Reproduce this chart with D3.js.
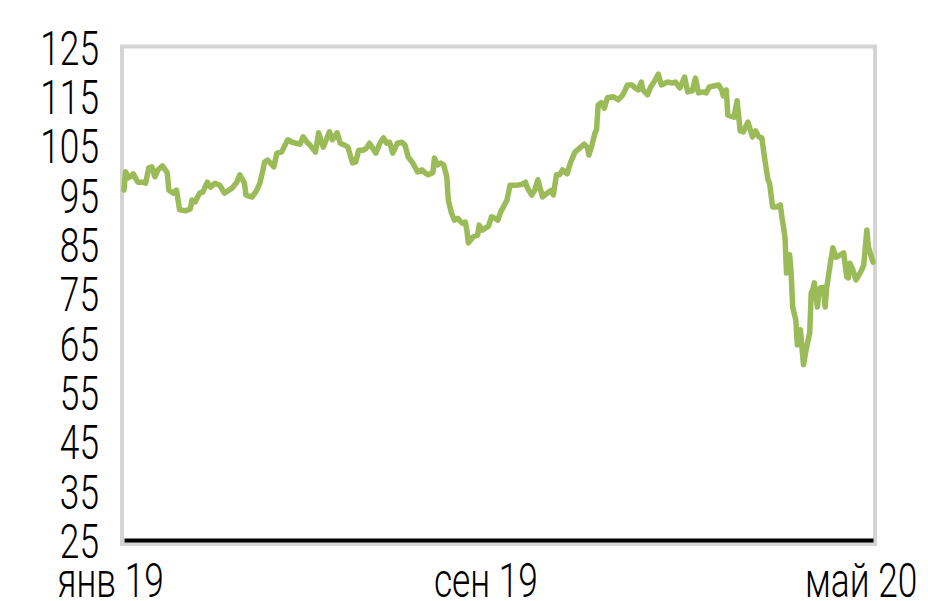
<!DOCTYPE html>
<html>
<head>
<meta charset="utf-8">
<script src="https://cdn.jsdelivr.net/npm/d3@7"></script>
<style>
  html, body { margin: 0; padding: 0; background: #fff; }
  svg { display: block; }
  text { font-family: Roboto, "Liberation Sans Narrow", sans-serif; fill: #000; }
</style>
</head>
<body>
<svg id="chart" width="928" height="601"></svg>
<script>
// ---- Data ----
const dates = [
"2019-01-10","2019-01-11","2019-01-13","2019-01-16","2019-01-19","2019-01-22","2019-01-24","2019-01-26","2019-01-28","2019-01-30",
"2019-02-01","2019-02-04","2019-02-07","2019-02-08","2019-02-11","2019-02-13","2019-02-15","2019-02-19","2019-02-22","2019-02-23",
"2019-02-25","2019-02-28","2019-03-02","2019-03-05","2019-03-07","2019-03-10","2019-03-13","2019-03-16","2019-03-21","2019-03-24",
"2019-03-26","2019-03-29","2019-03-30","2019-04-03","2019-04-06","2019-04-08","2019-04-10","2019-04-11","2019-04-13","2019-04-17",
"2019-04-19","2019-04-22","2019-04-26","2019-04-29","2019-05-04","2019-05-06","2019-05-09","2019-05-10","2019-05-14","2019-05-16",
"2019-05-19","2019-05-21","2019-05-23","2019-05-25","2019-05-28","2019-05-30","2019-06-02","2019-06-04","2019-06-07","2019-06-09",
"2019-06-11","2019-06-14","2019-06-16","2019-06-18","2019-06-22","2019-06-25","2019-06-27","2019-06-29","2019-07-01","2019-07-03",
"2019-07-06","2019-07-09","2019-07-11","2019-07-13","2019-07-16","2019-07-19","2019-07-22","2019-07-24","2019-07-26","2019-07-29",
"2019-07-30","2019-08-01","2019-08-03","2019-08-05","2019-08-07","2019-08-08","2019-08-10","2019-08-12","2019-08-14","2019-08-17",
"2019-08-19","2019-08-20","2019-08-21","2019-08-24","2019-08-27","2019-08-28","2019-08-30","2019-09-01","2019-09-03","2019-09-05",
"2019-09-07","2019-09-09","2019-09-11","2019-09-12","2019-09-15","2019-09-17","2019-09-19","2019-09-22","2019-09-25","2019-09-27",
"2019-09-28","2019-10-01","2019-10-03","2019-10-05","2019-10-08","2019-10-11","2019-10-14","2019-10-15","2019-10-17","2019-10-19",
"2019-10-21","2019-10-24","2019-10-26","2019-10-29","2019-11-01","2019-11-04","2019-11-06","2019-11-07","2019-11-09","2019-11-11",
"2019-11-12","2019-11-13","2019-11-15","2019-11-17","2019-11-19","2019-11-23","2019-11-26","2019-11-29","2019-12-02","2019-12-05",
"2019-12-07","2019-12-09","2019-12-11","2019-12-12","2019-12-15","2019-12-17","2019-12-20","2019-12-22","2019-12-24","2019-12-28",
"2019-12-31","2020-01-02","2020-01-05","2020-01-08","2020-01-10","2020-01-12","2020-01-13","2020-01-15","2020-01-17","2020-01-20",
"2020-01-22","2020-01-24","2020-01-27","2020-01-30","2020-02-01","2020-02-02","2020-02-04","2020-02-05","2020-02-09","2020-02-11",
"2020-02-13","2020-02-15","2020-02-18","2020-02-21","2020-02-23","2020-02-25","2020-02-27","2020-02-29","2020-03-02","2020-03-03",
"2020-03-05","2020-03-08","2020-03-10","2020-03-11","2020-03-13","2020-03-14","2020-03-16","2020-03-17","2020-03-18","2020-03-20",
"2020-03-21","2020-03-23","2020-03-25","2020-03-27","2020-03-29","2020-03-30","2020-03-31","2020-04-01","2020-04-03","2020-04-04",
"2020-04-05","2020-04-07","2020-04-08","2020-04-09","2020-04-11","2020-04-13","2020-04-15","2020-04-18","2020-04-20","2020-04-22",
"2020-04-23","2020-04-24","2020-04-26","2020-04-28","2020-05-01","2020-05-03","2020-05-05","2020-05-06","2020-05-09"
];
const values = [
95.9,99.6,98.4,99.2,97.5,97.5,97.3,100.4,100.6,98.6,
100.0,100.8,99.4,95.9,95.3,95.9,91.9,91.7,92.1,93.9,
93.5,95.3,95.5,97.5,96.5,97.3,96.9,95.3,96.3,97.5,
99.0,97.3,94.9,94.5,95.9,97.3,100.0,101.6,102.0,100.6,
103.4,103.6,106.1,105.6,105.2,106.7,105.4,105.2,103.6,107.5,
104.6,106.1,107.7,106.1,107.5,105.4,105.0,104.6,101.4,101.6,
104.0,104.0,104.4,105.4,103.4,105.6,106.5,105.4,105.6,103.4,
105.4,105.6,105.0,102.6,101.4,99.6,100.0,99.4,99.0,99.4,
102.4,101.0,101.4,101.0,98.6,93.9,91.3,89.8,90.2,89.2,
89.4,87.8,85.2,86.4,86.8,88.8,87.8,88.2,88.6,90.5,
90.2,89.8,91.5,92.1,93.9,96.9,96.9,96.9,97.1,97.5,
96.5,94.9,95.9,98.0,94.5,95.3,95.9,94.9,99.0,99.0,
100.0,99.2,101.4,103.6,104.4,105.2,104.6,103.0,105.0,107.5,
108.1,113.1,113.6,112.5,114.6,114.8,114.2,115.2,117.2,117.2,
116.6,116.2,117.8,116.2,115.2,116.8,118.2,119.4,117.2,117.8,
117.6,117.8,116.6,118.8,115.8,116.0,116.0,118.6,115.6,115.8,
115.6,116.8,117.0,117.2,116.2,115.0,116.2,111.1,110.7,114.0,
107.9,107.7,109.7,106.7,107.9,106.7,106.5,102.0,98.0,97.3,
92.5,92.5,92.9,90.5,86.4,79.1,82.8,79.1,72.2,69.6,
64.5,67.6,60.5,64.1,66.9,75.1,75.7,77.1,72.2,75.1,
76.1,76.1,72.2,76.1,80.3,84.2,82.3,82.8,83.2,78.3,
78.1,81.1,79.7,77.7,79.3,80.7,87.8,84.4,81.3
];
const yTicks = [25, 35, 45, 55, 65, 75, 85, 95, 105, 115, 125];
const xTickDates = ["2019-01-01", "2019-09-01", "2020-05-01"];
const xTickLabels = ["янв 19", "сен 19", "май 20"];

// ---- Chart ----
const parse = d3.timeParse("%Y-%m-%d");
const data = dates.map((d, i) => ({ date: parse(d), value: values[i] }));

const svg = d3.select("#chart");
const plotLeft = 124, plotRight = 873, plotTop = 46.5, plotBottom = 540;

const x = d3.scaleTime()
  .domain([parse("2019-01-10"), parse("2020-05-09")])
  .range([plotLeft, plotRight]);
const y = d3.scaleLinear().domain([25, 125]).range([plotBottom, plotTop]);

// Plot frame
svg.append("rect")
  .attr("x", 122).attr("y", 46.5)
  .attr("width", 753).attr("height", 497.5)
  .attr("fill", "none")
  .attr("stroke", "#d4d4d4")
  .attr("stroke-width", 4);

// Y axis
const yAxis = svg.append("g")
  .attr("transform", `translate(${plotLeft - 2},0)`)
  .call(d3.axisLeft(y).tickValues(yTicks).tickSize(0).tickFormat(d3.format("d")));
yAxis.select(".domain").remove();
yAxis.selectAll("text")
  .attr("x", null)
  .attr("dy", "0.36em")
  .attr("transform", "translate(-23,0) scale(0.72,1)")
  .style("font-family", "Roboto, sans-serif")
  .style("font-weight", "300")
  .style("font-size", "49px")
  .attr("text-anchor", "end");

// Line
svg.append("path")
  .datum(data)
  .attr("fill", "none")
  .attr("stroke", "#9bbb59")
  .attr("stroke-width", 5.5)
  .attr("stroke-linejoin", "round")
  .attr("stroke-linecap", "round")
  .attr("d", d3.line().x(d => x(d.date)).y(d => y(d.value)));

// X axis
const xAxis = svg.append("g")
  .attr("transform", `translate(0,${plotBottom})`)
  .call(d3.axisBottom(x)
    .tickValues(xTickDates.map(parse))
    .tickSize(0)
    .tickSizeOuter(0)
    .tickFormat((d, i) => xTickLabels[i]));
xAxis.select(".domain")
  .attr("stroke", "#000")
  .attr("stroke-width", 4);
xAxis.selectAll("text")
  .attr("y", 57)
  .attr("dy", null)
  .attr("transform", "scale(0.72,1)")
  .style("font-family", "Roboto, sans-serif")
  .style("font-weight", "300")
  .style("font-size", "49px");
</script>
</body>
</html>
